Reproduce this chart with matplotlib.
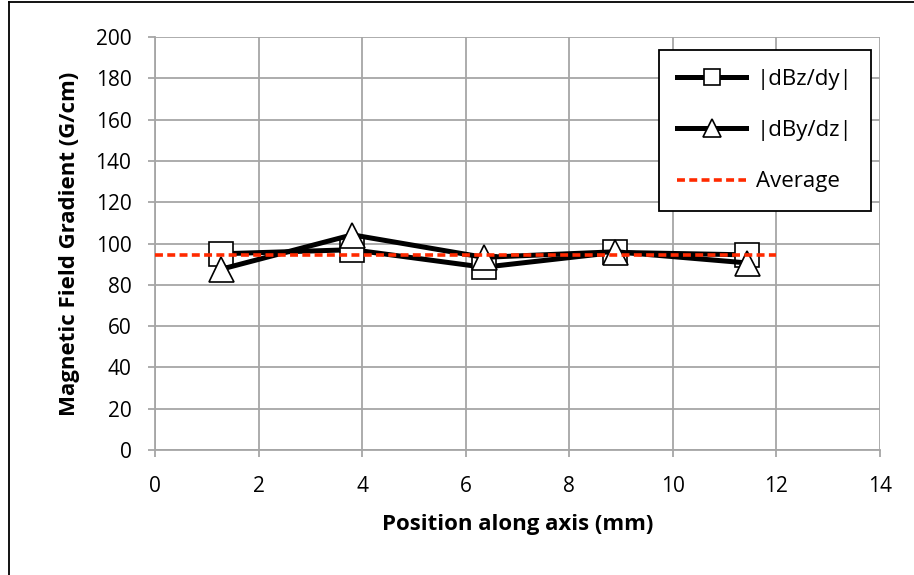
import matplotlib
matplotlib.use("Agg")
import matplotlib.pyplot as plt
from matplotlib.lines import Line2D

# Measurement positions (mm) and gradients (G/cm)
position = [1.27, 3.81, 6.35, 8.89, 11.43]
dbz_dy = [95.0, 97.0, 88.5, 95.7, 94.5]
dby_dz = [87.5, 104.2, 93.3, 96.0, 90.6]
average = sum(dbz_dy + dby_dz) / (len(dbz_dy) + len(dby_dz))
avg_span = [0, 12]

xticks = list(range(0, 15, 2))
yticks = list(range(0, 201, 20))

plt.rcParams['font.family'] = ['Open Sans', 'DejaVu Sans']

fig = plt.figure(figsize=(9.14, 5.75), dpi=100)
ax = fig.add_axes([155 / 914, 1 - 450 / 575, 725 / 914, 413 / 575])

grid_color = '#a6a6a6'
ax.set_xlim(0, 14)
ax.set_ylim(0, 200)
ax.set_xticks(xticks)
ax.set_yticks(yticks)
ax.grid(True, color=grid_color, linewidth=1.3)
ax.set_axisbelow(True)
for side in ['top', 'right']:
    ax.spines[side].set_visible(False)
for side in ['left', 'bottom']:
    ax.spines[side].set_color(grid_color)
    ax.spines[side].set_linewidth(1.3)
ax.tick_params(axis='both', colors=grid_color, length=5, width=1.3,
               labelcolor='black', labelsize=15)
ax.tick_params(axis='x', pad=14)
ax.tick_params(axis='y', pad=12)

ax.plot(position, dbz_dy, '-', color='black', linewidth=3.6, marker='s',
        markersize=17, markerfacecolor='white', markeredgecolor='black',
        markeredgewidth=1.2, label='|dBz/dy|', zorder=3)
ax.plot(position, dby_dz, '-', color='black', linewidth=3.6, marker='^',
        markersize=18, markerfacecolor='white', markeredgecolor='black',
        markeredgewidth=1.2, label='|dBy/dz|', zorder=4)
ax.plot(avg_span, [average, average], color='#ff2a00', linewidth=2.6,
        linestyle=(0, (2.2, 1.2)), label='Average', zorder=5)

ax.set_xlabel('Position along axis (mm)', fontsize=16, fontweight='bold',
              labelpad=12)
ax.set_ylabel('Magnetic Field Gradient (G/cm)', fontsize=16,
              fontweight='bold', labelpad=11)

leg = ax.legend(loc='upper right', bbox_to_anchor=(0.9876, 0.9685),
                borderaxespad=0, fontsize=16, markerscale=0.7,
                handlelength=3.1, labelspacing=1.36, borderpad=0.85,
                handletextpad=0.45, frameon=True, fancybox=False,
                framealpha=1)
leg.get_frame().set_edgecolor('black')
leg.get_frame().set_linewidth(1.3)

# Chart area border (left and top edges)
fig.add_artist(Line2D([9 / 914, 9 / 914], [0, 1 - 2 / 575],
                      color='black', linewidth=1.3))
fig.add_artist(Line2D([9 / 914, 1], [1 - 2 / 575, 1 - 2 / 575],
                      color='black', linewidth=1.3))

fig.savefig('out.png', dpi=100)
